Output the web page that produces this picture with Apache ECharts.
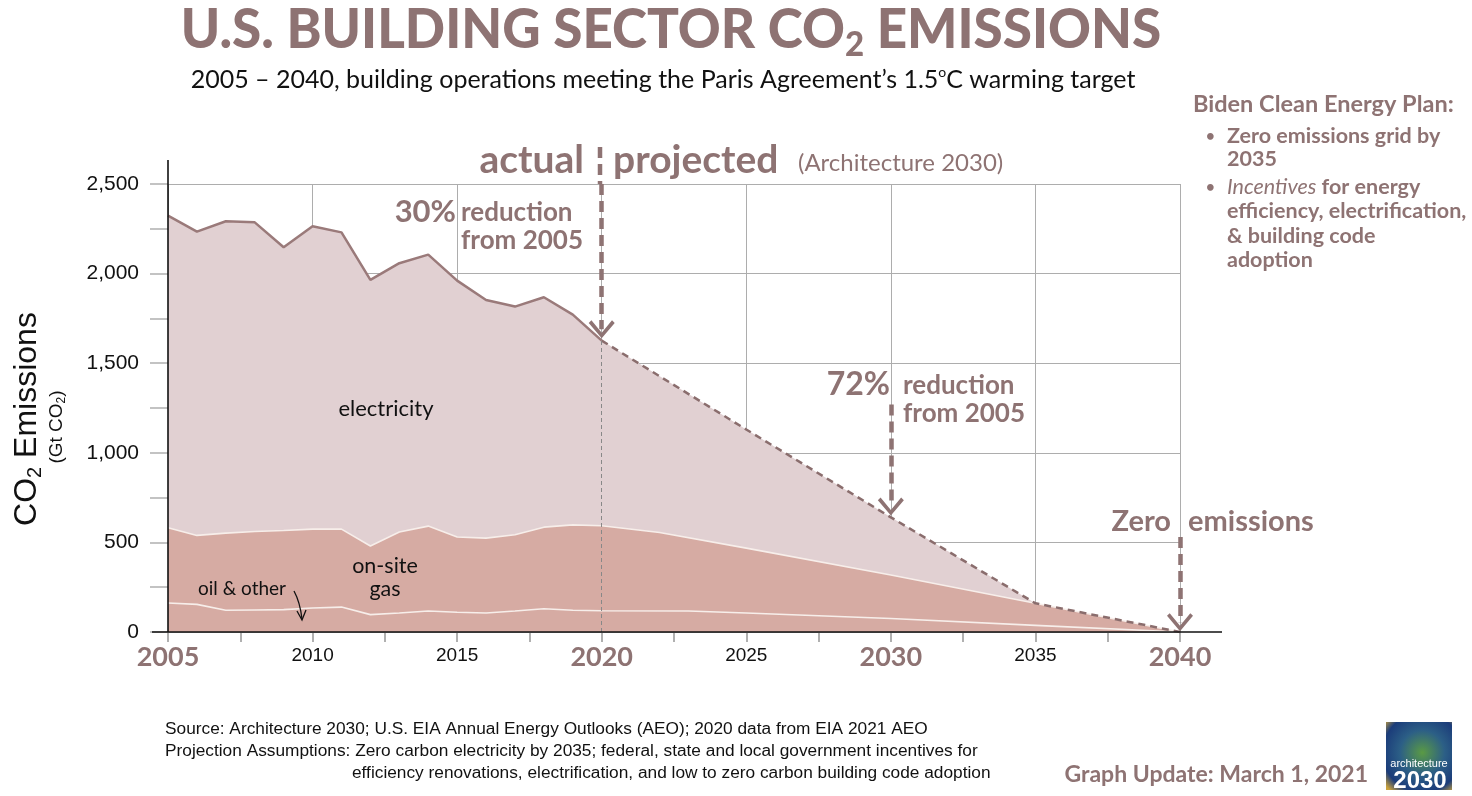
<!DOCTYPE html>
<html><head><meta charset="utf-8">
<script src="https://cdn.jsdelivr.net/npm/echarts@6/dist/echarts.min.js"></script>
<style>html,body{margin:0;padding:0;background:#fff}#c{width:1472px;height:796px}</style>
</head><body><div id="c"></div>
<script>
// ---- data ----
const actualYears   = [2005,2006,2007,2008,2009,2010,2011,2012,2013,2014,2015,2016,2017,2018,2019,2020];
const totalActual   = [2323,2234,2292,2286,2147,2264,2230,1965,2058,2106,1961,1853,1816,1868,1771,1626];
const gasTopActual  = [582,539,552,561,566,574,574,480,558,591,530,524,543,585,598,593];
const oilActual     = [162,154,121,123,125,134,139,97,106,117,110,106,117,130,121,119];

const projTotalYears = [2020,2025,2030,2035,2040];
const totalProjected = [1626,1130,640,160,0];
const projGasYears   = [2020,2022,2025,2030,2035,2040];
const gasTopProjected= [593,555,468,318,160,0];
const projOilYears   = [2020,2023,2025,2030,2035,2040];
const oilProjected   = [119,117,106,75,37,0];

const xTickYears     = [2005,2010,2015,2020,2025,2030,2035,2040];
const highlightYears = [2005,2020,2030,2040];
const yTickValues    = [0,500,1000,1500,2000,2500];

// ---- helpers ----
const pairs = (xs, ys) => xs.map((x, i) => [x, ys[i]]);
const joined = (a, b) => a.concat(b.slice(1));
const totalAll = joined(pairs(actualYears, totalActual), pairs(projTotalYears, totalProjected));
const gasAll   = joined(pairs(actualYears, gasTopActual), pairs(projGasYears, gasTopProjected));
const oilAll   = joined(pairs(actualYears, oilActual), pairs(projOilYears, oilProjected));

const MAUVE = '#8e7373';
const ELEC = '#e1d0d2';
const GAS = '#d6aba3';
const WLINE = '#f7eeea';
const SANS = 'Lato, "Open Sans", sans-serif';
const HELV = '"Liberation Sans", Arial, sans-serif';

const chevron = 'path://M0,0 L12,14 L9.5,16.5 L0,5 L-9.5,16.5 L-12,14 Z';
const ARROW_STYLE = {color: MAUVE, width: 4.5, type: [11, 6]};
const arrowLine = (x, yFrom, yTo) => [
  {coord: [x, yFrom], symbol: 'none', lineStyle: ARROW_STYLE},
  {coord: [x, yTo], symbol: chevron, symbolSize: [26, 18]}
];

function txt(x, y, text, o) {
  o = o || {};
  return {
    type: 'text', x: x, y: y, z: 100, rotation: o.rotation || 0,
    scaleX: o.scaleX || 1, scaleY: o.scaleY || 1,
    style: {
      text: text,
      fill: o.fill || '#111',
      fontSize: o.fontSize, fontWeight: o.fontWeight, fontFamily: o.fontFamily || SANS, fontStyle: o.fontStyle,
      align: o.align || 'left', textAlign: o.align || 'left',
      verticalAlign: 'middle', textVerticalAlign: 'middle',
      rich: o.rich
    }
  };
}
const B = (size, align) => ({fontSize: size, fontWeight: 'bold', fill: MAUVE, align: align});

const chart = echarts.init(document.getElementById('c'), null, {renderer: 'canvas'});

const graphics = [
  // title
  txt(671, 30, '{a|U.S. BUILDING SECTOR CO}{s|2}{a| EMISSIONS}', {align: 'center', scaleY: 1.04,
    rich: {
      a: {fontSize: 53, fontWeight: 900, fontFamily: SANS, fill: MAUVE, color: MAUVE, lineHeight: 62},
      s: {fontSize: 33, fontWeight: 900, fontFamily: SANS, fill: MAUVE, color: MAUVE, lineHeight: 30, verticalAlign: 'bottom'}
    }}),
  // subtitle
  txt(663, 80, '{n|2005 – 2040, building operations meeting the Paris Agreement’s 1.5}{o|o}{n|C warming target}', {align: 'center',
    rich: {
      n: {fontSize: 25, fontFamily: SANS, fill: '#111', color: '#111', lineHeight: 30},
      o: {fontSize: 14, fontFamily: SANS, fill: '#111', color: '#111', lineHeight: 14, verticalAlign: 'top'}
    }}),
  // right panel
  txt(1193, 104, 'Biden Clean Energy Plan:', B(23.5)),
  txt(1206, 136, '•', B(15)),
  txt(1227, 136, 'Zero emissions grid by', B(21.5)),
  txt(1227, 159, '2035', B(21.5)),
  txt(1206, 187, '•', B(15)),
  txt(1227, 187, '{i|Incentives}{b| for energy}', {
    rich: {
      i: {fontSize: 21.5, fontStyle: 'italic', fontFamily: SANS, fill: MAUVE, color: MAUVE},
      b: {fontSize: 21.5, fontWeight: 'bold', fontFamily: SANS, fill: MAUVE, color: MAUVE}
    }}),
  txt(1227, 211, 'efficiency, electrification,', B(21.5)),
  txt(1227, 236, '& building code', B(21.5)),
  txt(1227, 260, 'adoption', B(21.5)),
  // actual | projected
  txt(584, 160, 'actual', B(39, 'right')),
  txt(613, 160, 'projected', B(39)),
  txt(798, 163, '(Architecture 2030)', {fontSize: 24, fill: MAUVE}),
  // 30%
  txt(456, 212, '30%', B(31, 'right')),
  txt(461, 213, 'reduction', B(26)),
  txt(461, 241, 'from 2005', B(26)),
  // 72%
  txt(890, 385, '72%', B(32, 'right')),
  txt(903, 386, 'reduction', B(26)),
  txt(903, 414, 'from 2005', B(26)),
  // zero emissions
  txt(1171, 522, 'Zero', B(29, 'right')),
  txt(1188, 522, 'emissions', B(29)),
  // area labels
  txt(386, 409, 'electricity', {fontSize: 22, align: 'center'}),
  txt(385, 566, 'on-site', {fontSize: 21.5, align: 'center'}),
  txt(385, 589, 'gas', {fontSize: 21.5, align: 'center'}),
  txt(242, 589, 'oil & other', {fontSize: 19, align: 'center'}),
  {type: 'bezierCurve', z: 100, shape: {x1: 294, y1: 591, cpx1: 300, cpy1: 602, x2: 302, y2: 619},
    style: {stroke: '#111', lineWidth: 1.3, fill: null}},
  {type: 'polyline', z: 100, shape: {points: [[297, 611], [302, 620], [306, 610]]},
    style: {stroke: '#111', lineWidth: 1.3, fill: null}},
  // y axis title
  txt(27, 419, '{a|CO}{s|2}{a| Emissions}', {rotation: Math.PI / 2, align: 'center',
    rich: {
      a: {fontSize: 32, fontFamily: HELV, fill: '#111', color: '#111', lineHeight: 36},
      s: {fontSize: 20, fontFamily: HELV, fill: '#111', color: '#111', lineHeight: 22, verticalAlign: 'bottom'}
    }}),
  txt(57, 427, '{a|(Gt CO}{s|2}{a|)}', {rotation: Math.PI / 2, align: 'center',
    rich: {
      a: {fontSize: 19, fontFamily: HELV, fill: '#111', color: '#111', lineHeight: 22},
      s: {fontSize: 12, fontFamily: HELV, fill: '#111', color: '#111', lineHeight: 12, verticalAlign: 'bottom'}
    }}),
  // axis lines
  {type: 'line', z: 90, shape: {x1: 168, y1: 160, x2: 168, y2: 632}, style: {stroke: '#111', lineWidth: 1.6}},
  {type: 'line', z: 90, shape: {x1: 152, y1: 632, x2: 1222, y2: 632}, style: {stroke: '#111', lineWidth: 1.6}},
  // top part of the 2020 arrow (above the plot area)
  {type: 'line', z: 90, shape: {x1: 600, y1: 147, x2: 600, y2: 184}, style: {stroke: MAUVE, lineWidth: 4.5, lineDash: [11, 6]}},
  // source
  txt(165, 729, 'Source: Architecture 2030; U.S. EIA Annual Energy Outlooks (AEO); 2020 data from EIA 2021 AEO', {fontSize: 17.3, fontFamily: HELV}),
  txt(165, 751, 'Projection Assumptions: Zero carbon electricity by 2035; federal, state and local government incentives for', {fontSize: 17.3, fontFamily: HELV}),
  txt(352, 773, 'efficiency renovations, electrification, and low to zero carbon building code adoption', {fontSize: 17.3, fontFamily: HELV}),
  txt(1368, 775, 'Graph Update: March 1, 2021', B(23, 'right')),
  // logo
  {type: 'rect', z: 100, shape: {x: 1386, y: 722, width: 66, height: 68},
    style: {fill: {type: 'radial', x: 0.55, y: 0.45, r: 0.75,
      colorStops: [{offset: 0, color: '#5a9a44'}, {offset: 0.45, color: '#2c5f86'}, {offset: 0.8, color: '#1b3c7a'}, {offset: 1, color: '#caa23c'}]}}},
  txt(1419, 764, 'architecture', {fontSize: 11, fill: '#fff', align: 'center', fontFamily: HELV}),
  txt(1420, 781, '2030', {fontSize: 24, fontWeight: 'bold', fill: '#fff', align: 'center', fontFamily: HELV})
];

const option = {
  animation: false,
  backgroundColor: '#fff',
  grid: {left: 168, right: 292, top: 184, bottom: 164, containLabel: false},
  xAxis: {
    type: 'value', min: 2005, max: 2040, interval: 5,
    axisLine: {show: false},
    axisTick: {show: true, length: 10, lineStyle: {color: '#b0b0b0', width: 2}},
    minorTick: {show: true, splitNumber: 2, length: 10, lineStyle: {color: '#b0b0b0', width: 2}},
    splitLine: {show: true, lineStyle: {color: '#adadad', width: 1}},
    axisLabel: {
      margin: 12,
      formatter: v => highlightYears.includes(v) ? '{b|' + v + '}' : '{n|' + v + '}',
      rich: {
        b: {fontSize: 27, fontWeight: 'bold', color: MAUVE, fontFamily: SANS},
        n: {fontSize: 19, color: '#111', fontFamily: HELV, padding: [2, 0, 0, 0]}
      }
    }
  },
  yAxis: {
    type: 'value', min: 0, max: 2500, interval: 500,
    axisLine: {show: false},
    axisTick: {show: true, length: 18, lineStyle: {color: '#b0b0b0', width: 1.5}},
    minorTick: {show: true, splitNumber: 2, length: 18, lineStyle: {color: '#b0b0b0', width: 1.5}},
    splitLine: {show: true, lineStyle: {color: '#adadad', width: 1}},
    axisLabel: {
      margin: 29, fontSize: 21, color: '#111', fontFamily: HELV,
      formatter: v => yTickValues.includes(v) ? v.toLocaleString('en-US') : ''
    }
  },
  series: [
    {name: 'electricity', type: 'line', data: totalAll, symbol: 'none', z: 1,
      lineStyle: {width: 0, opacity: 0}, areaStyle: {color: ELEC, opacity: 1}},
    {name: 'on-site gas', type: 'line', data: gasAll, symbol: 'none', z: 2,
      lineStyle: {width: 1.6, color: WLINE}, areaStyle: {color: GAS, opacity: 1}},
    {name: 'oil & other', type: 'line', data: oilAll, symbol: 'none', z: 3,
      lineStyle: {width: 1.6, color: WLINE}},
    {name: 'total actual', type: 'line', data: pairs(actualYears, totalActual), symbol: 'none', z: 4,
      lineStyle: {width: 2.5, color: '#9a7a7a'}},
    {name: 'total projected', type: 'line', data: pairs(projTotalYears, totalProjected), symbol: 'none', z: 4,
      clip: false,
      lineStyle: {width: 2.5, color: '#8a6d6d', type: [7, 5]},
      markLine: {
        silent: true, animation: false, symbol: ['none', 'none'], label: {show: false},
        data: [
          [{coord: [2020, 0], symbol: 'none', lineStyle: {color: '#888', width: 1, type: [4, 3]}},
           {coord: [2020, 1626], symbol: 'none'}],
          arrowLine(2020, 2500, 1690),
          arrowLine(2030, 1270, 700),
          arrowLine(2040, 530, 55)
        ]
      }
    }
  ],
  graphic: graphics
};
chart.setOption(option);
</script>
</body></html>
